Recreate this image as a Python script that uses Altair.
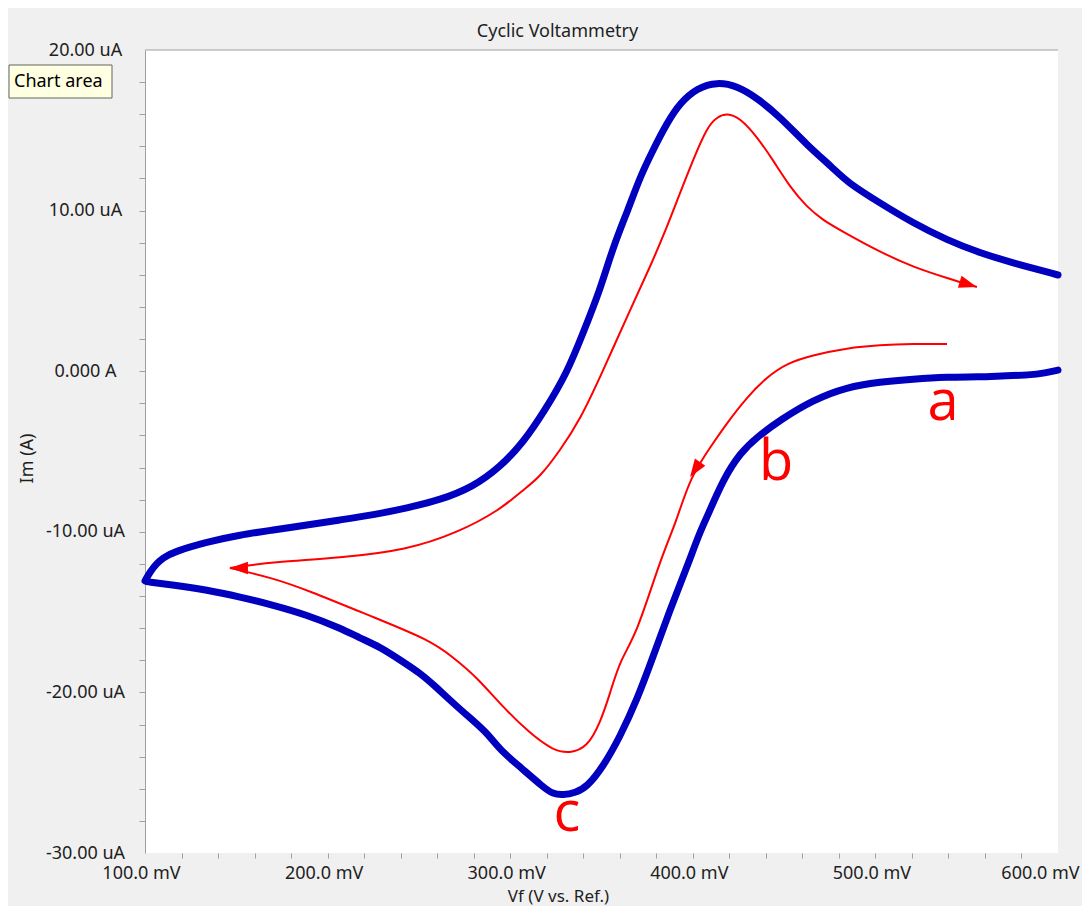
import altair as alt
import pandas as pd

# ---- measured CV trace (mV, uA): lower branch right->left, then upper branch left->right
cv_mv = [600.0, 592.9, 584.7, 568.2, 557.3, 539.2, 520.6, 502.5, 484.4, 465.8,
         447.8, 435.2, 425.9, 416.5, 407.8, 403.9, 396.8, 387.5, 378.2, 369.4,
         360.1, 350.8, 342.1, 335.5, 328.9, 323.4, 318.0, 305.4, 294.4, 287.3,
         278.0, 268.7, 259.9, 250.6, 239.7, 228.7, 217.7, 206.8, 188.7, 170.1,
         152.0, 134.0, 115.3, 101.1, 100.0, 100.0, 100.0,
         102.7, 106.6, 109.9, 115.3, 134.0, 152.0, 170.1, 188.7, 206.8, 224.9,
         243.5, 261.6, 279.6, 294.4, 307.0, 319.1, 331.1, 339.9, 349.2, 356.3,
         364.5, 371.1, 378.2, 385.9, 393.0, 402.3, 413.3, 424.2, 435.2, 447.8,
         462.5, 476.8, 484.4, 502.5, 520.6, 539.2, 557.3, 575.4, 600.0, 600.0]
cv_ua = [0.07, -0.11, -0.24, -0.30, -0.36, -0.36, -0.49, -0.67, -0.98, -1.79,
         -3.04, -4.10, -5.09, -6.77, -9.08, -10.01, -12.19, -14.86, -17.79, -20.47,
         -22.77, -24.64, -25.89, -26.26, -26.39, -26.33, -25.89, -24.64, -23.58, -22.52,
         -21.59, -20.66, -19.72, -18.79, -17.98, -17.17, -16.61, -15.99, -15.18, -14.56,
         -14.06, -13.62, -13.31, -13.12, -13.06, -13.06, -13.06,
         -12.50, -11.94, -11.63, -11.26, -10.63, -10.19, -9.89, -9.57, -9.26, -8.95,
         -8.52, -8.02, -7.21, -5.97, -4.47, -2.42, -0.11, 2.38, 5.05, 7.73,
         10.04, 12.09, 13.77, 15.46, 16.70, 17.63, 18.01, 17.76, 17.01, 15.83,
         14.08, 12.65, 11.78, 10.47, 9.23, 8.17, 7.36, 6.74, 5.99, 5.99]

# ---- red guide arrows (mV, uA)
guide_up_mv = [146.5, 146.5, 170.1, 206.8, 243.5, 270.9, 294.4, 307.0, 316.3, 327.3, 338.2,
               350.3, 365.6, 376.6, 385.9, 393.0, 400.1, 407.8, 413.3, 418.7, 425.9,
               435.2, 443.9, 453.2, 462.5, 471.3, 480.6, 502.5, 520.6, 539.2, 555.6, 555.6]
guide_up_ua = [-12.25, -12.25, -11.88, -11.63, -11.13, -10.07, -8.64, -7.40, -6.59, -4.93, -3.04,
               -0.11, 3.81, 6.49, 8.98, 11.10, 13.15, 15.20, 15.83, 16.08, 15.77,
               14.59, 13.15, 11.47, 10.22, 9.41, 8.79, 7.42, 6.49, 5.80, 5.24, 5.24]
guide_dn_mv = [539.2, 539.2, 520.6, 502.5, 484.4, 465.8, 451.6, 440.6, 429.7, 418.7, 411.1,
               398.5, 391.3, 382.0, 369.4, 360.1, 354.7, 349.2, 342.1, 332.7, 323.4,
               310.8, 296.1, 281.8, 268.7, 256.1, 224.9, 188.7, 170.1, 146.5, 146.5]
guide_dn_ua = [1.70, 1.70, 1.70, 1.63, 1.44, 1.00, 0.50, -0.36, -1.61, -3.23, -4.48,
               -6.59, -9.29, -11.78, -16.33, -18.01, -20.06, -21.92, -23.42, -23.80, -23.61,
               -22.55, -20.93, -19.06, -17.81, -16.75, -15.31, -13.62, -12.88, -12.25, -12.25]

arrow_mv = [555.6, 398.5, 146.5]
arrow_ua = [5.24, -6.59, -12.25]
arrow_dir = [17, 124, 180]

letter_text = ["a", "b", "c"]
letter_mv = [537.0, 445.6, 331.1]
letter_ua = [-3.04, -6.77, -28.6]

x_ticks = list(range(100, 601, 20))
y_ticks = list(range(-30, 21, 2))

FONT = "Noto Sans"
TXT = "#1e1e1e"
GRAY = "#a0a0a0"

cv = pd.DataFrame({"mv": cv_mv, "ua": cv_ua, "i": range(len(cv_mv))})
guide = pd.concat([
    pd.DataFrame({"mv": guide_up_mv, "ua": guide_up_ua, "g": "up", "i": range(len(guide_up_mv))}),
    pd.DataFrame({"mv": guide_dn_mv, "ua": guide_dn_ua, "g": "dn", "i": range(len(guide_dn_mv))}),
])
arrows = pd.DataFrame({"mv": arrow_mv, "ua": arrow_ua, "ang": arrow_dir})
letters = pd.DataFrame({"mv": letter_mv, "ua": letter_ua, "t": letter_text})

x_axis = alt.Axis(
    values=x_ticks,
    labelExpr="datum.value % 100 == 0 ? format(datum.value, '.1f') + ' mV' : ''",
    domain=False, grid=False,
    tickColor=GRAY, tickSize=5,
    tickOpacity={"condition": {"test": "datum.value == 100 || datum.value == 600", "value": 0}, "value": 1},
    labelFlush=False, labelOverlap=False, labelPadding=6,
    labelOffset={"condition": {"test": "datum.value == 600", "value": -18}, "value": -4},
    labelFont=FONT, labelFontSize=18, labelColor=TXT,
    title="Vf (V vs. Ref.)", titleFont=FONT, titleFontSize=17, titleFontWeight="normal",
    titleColor=TXT, titleX=413, titleY=48, titleBaseline="alphabetic", titleAlign="center",
)
y_axis = alt.Axis(
    values=y_ticks,
    labelExpr="datum.value % 10 != 0 ? '' : (datum.value == 0 ? '0.000 A' : (datum.value < 0 ? '-' : '') + format(abs(datum.value), '.2f') + ' uA')",
    domainColor=GRAY, grid=False,
    tickColor=GRAY, tickSize=6,
    tickOpacity={"condition": {"test": "datum.value == -30 || datum.value == 20", "value": 0}, "value": 1},
    labelOverlap=False, labelPadding=54, labelFlush=False, labelAlign="center",
    labelFont=FONT, labelFontSize=18, labelColor=TXT,
    title="Im (A)", titleFont=FONT, titleFontSize=18, titleFontWeight="normal",
    titleColor=TXT, titleX=-118, titleY=408, titleAngle=270,
    titleBaseline="middle", titleAlign="center",
)
xs = alt.Scale(domain=[100, 600], nice=False, zero=False)
ys = alt.Scale(domain=[-30, 20], nice=False, zero=False)
X = alt.X("mv:Q", scale=xs, axis=x_axis)
Y = alt.Y("ua:Q", scale=ys, axis=y_axis)

one = pd.DataFrame({"k": [0]})

border = alt.Chart(one).mark_rule(color=GRAY, strokeWidth=1).encode(
    x=alt.value(0), x2=alt.value(913), y=alt.value(0))

blue = alt.Chart(cv).mark_line(color="#0000BE", strokeWidth=7, strokeCap="round",
                               strokeJoin="round", interpolate="basis").encode(
    x=X, y=Y, order="i:Q")

red = alt.Chart(guide).mark_line(color="#FF0000", strokeWidth=2,
                                 interpolate="basis").encode(
    x=X, y=Y, detail="g:N", order="i:Q")

heads = alt.Chart(arrows).mark_point(
    shape="M0,0 L-2,-0.7 L-2,0.7 Z", size=324, filled=True, color="#FF0000", opacity=1,
    strokeWidth=0).encode(x=X, y=Y, angle=alt.Angle("ang:Q", scale=None))

letter_marks = alt.Chart(letters).mark_text(
    font="Open Sans", fontSize=56, color="#FF0000", align="center", baseline="alphabetic").encode(
    x=X, y=Y, text="t:N")

tip_box = alt.Chart(one).mark_rect(fill="#FFFFE1", stroke="#646464", strokeWidth=1).encode(
    x=alt.value(-136), x2=alt.value(-33), y=alt.value(15), y2=alt.value(48))
tip_text = alt.Chart(one).mark_text(
    text="Chart area", font=FONT, fontSize=18, color="#000000", align="left", baseline="middle").encode(
    x=alt.value(-131), y=alt.value(32))

chart = alt.layer(border, blue, red, heads, letter_marks, tip_box, tip_text).properties(
    width=913, height=803,
    autosize="none",
    padding={"left": 137, "top": 42, "right": 24, "bottom": 53},
    background="#F0F0F0",
    title=alt.TitleParams("Cyclic Voltammetry", font=FONT, fontSize=18, fontWeight="normal",
                          color=TXT, anchor="middle", frame="group", dx=-44, dy=30, offset=16,
                          baseline="alphabetic"),
).configure_view(fill="white", strokeWidth=0)

chart.save("out.html", embed_options={"renderer": "svg", "actions": False})
